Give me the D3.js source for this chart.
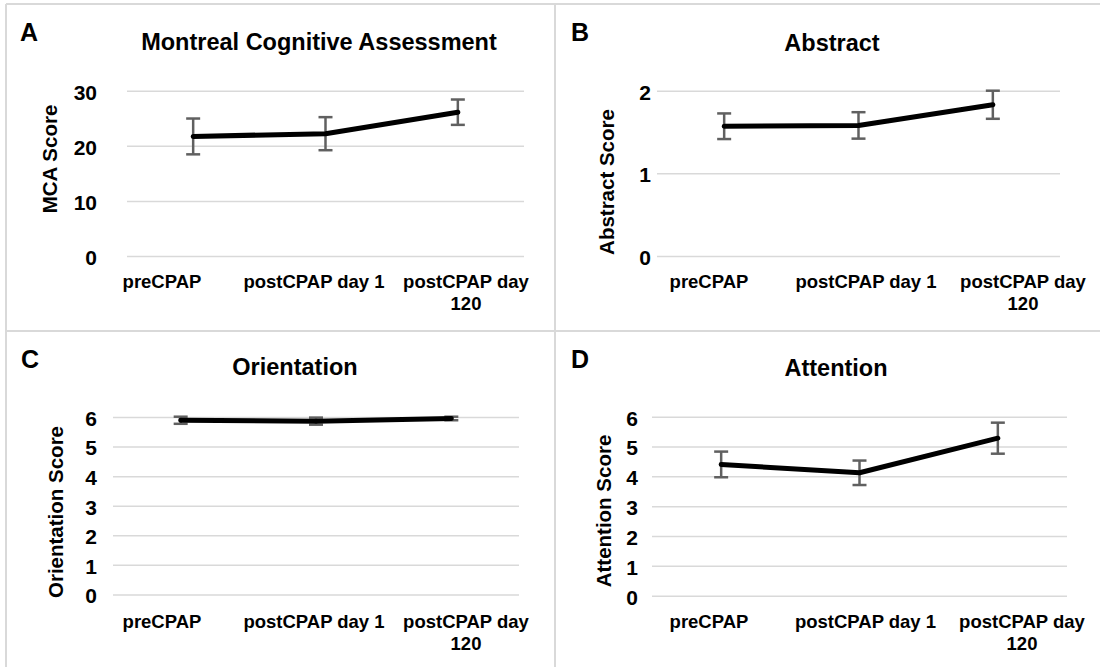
<!DOCTYPE html>
<html>
<head>
<meta charset="utf-8">
<script src="https://cdn.jsdelivr.net/npm/d3@7"></script>
<style>
  body { margin: 0; background: #fff; }
  text { font-family: "Liberation Sans", Arial, sans-serif; font-weight: bold; fill: #000; }
</style>
</head>
<body>
<svg width="1100" height="667"></svg>
<script>
// categories and tick labels
var categories = ["preCPAP", "postCPAP day 1", "postCPAP day 120"];
var categoryLines = [["preCPAP"], ["postCPAP day 1"], ["postCPAP day", "120"]];

// means and error
var mcaMean = [21.7, 22.2, 26.1];
var mcaErr = [3.25, 3.0, 2.3];
var abstractMean = [1.57, 1.58, 1.83];
var abstractErr = [0.155, 0.16, 0.17];
var orientationMean = [5.89, 5.86, 5.95];
var orientationErr = [0.12, 0.12, 0.06];
var attentionMean = [4.40, 4.12, 5.28];
var attentionErr = [0.43, 0.41, 0.52];

var mcaTicks = [0, 10, 20, 30];
var abstractTicks = [0, 1, 2];
var orientationTicks = [0, 1, 2, 3, 4, 5, 6];
var attentionTicks = [0, 1, 2, 3, 4, 5, 6];

var svg = d3.select("svg");

// panel frames
var frame = svg.append("g").attr("stroke", "#d9d9d9").attr("stroke-width", 2);
frame.append("line").attr("x1", 6).attr("x2", 1100).attr("y1", 4).attr("y2", 4);
frame.append("line").attr("x1", 6).attr("x2", 6).attr("y1", 4).attr("y2", 667);
frame.append("line").attr("x1", 555).attr("x2", 555).attr("y1", 4).attr("y2", 667);
frame.append("line").attr("x1", 6).attr("x2", 1100).attr("y1", 331).attr("y2", 331);

var panels = [
  { letter: "A", title: "Montreal Cognitive Assessment", ylabel: "MCA Score",
    mean: mcaMean, err: mcaErr, ticks: mcaTicks,
    x: [127, 524], y: [256, 90.7], pad: 30,
    letterPos: [20, 41], titlePos: [319, 50], ylabPos: [50, 159],
    labX: [162, 466], labY: 288 },
  { letter: "B", title: "Abstract", ylabel: "Abstract Score",
    mean: abstractMean, err: abstractErr, ticks: abstractTicks,
    x: [657, 1060], y: [256, 90.7], pad: 6,
    letterPos: [571, 41], titlePos: [832, 51], ylabPos: [607, 182],
    labX: [709, 1023], labY: 288 },
  { letter: "C", title: "Orientation", ylabel: "Orientation Score",
    mean: orientationMean, err: orientationErr, ticks: orientationTicks,
    x: [113, 519], y: [594.4, 417], pad: 16,
    letterPos: [21, 368], titlePos: [295, 375], ylabPos: [56, 512],
    labX: [162, 466], labY: 628 },
  { letter: "D", title: "Attention", ylabel: "Attention Score",
    mean: attentionMean, err: attentionErr, ticks: attentionTicks,
    x: [652, 1067], y: [595.7, 416.7], pad: 14,
    letterPos: [571, 368], titlePos: [836, 376], ylabPos: [604, 511],
    labX: [709, 1022], labY: 628 }
];

panels.forEach(drawPanel);

function drawPanel(p) {
  var g = svg.append("g");
  var ymax = p.ticks[p.ticks.length - 1];

  var x = d3.scaleBand().domain(categories).range(p.x);
  var y = d3.scaleLinear().domain([0, ymax]).range(p.y);
  var lab = d3.scalePoint().domain(categories).range(p.labX);

  // gridlines + tick labels
  var ax = g.append("g")
      .attr("transform", "translate(" + p.x[0] + ",0)")
      .call(d3.axisLeft(y)
        .tickValues(p.ticks)
        .tickSize(-(p.x[1] - p.x[0]))
        .tickPadding(p.pad)
        .tickFormat(d3.format("d")));
  ax.select(".domain").remove();
  ax.selectAll(".tick line").attr("stroke", "#d9d9d9").attr("stroke-width", 1.5);
  ax.selectAll(".tick text")
      .attr("font-size", 21)
      .attr("dy", "0.4em")
      .style("font-family", "'Liberation Sans', Arial, sans-serif")
      .style("font-weight", "bold");

  // category labels
  categories.forEach(function(c, i) {
    var t = g.append("text")
        .attr("x", lab(c))
        .attr("y", p.labY)
        .attr("text-anchor", "middle")
        .attr("font-size", 18.5);
    categoryLines[i].forEach(function(s, j) {
      t.append("tspan").attr("x", lab(c)).attr("dy", j == 0 ? 0 : 22).text(s);
    });
  });

  var pts = categories.map(function(c, i) {
    return { cx: x(c) + x.bandwidth() / 2, m: p.mean[i], e: p.err[i] };
  });

  // error bars
  var eb = g.append("g").attr("stroke", "#606060").attr("stroke-width", 2.5);
  pts.forEach(function(d) {
    eb.append("line").attr("x1", d.cx).attr("x2", d.cx)
      .attr("y1", y(d.m - d.e)).attr("y2", y(d.m + d.e));
    eb.append("line").attr("x1", d.cx - 7).attr("x2", d.cx + 7)
      .attr("y1", y(d.m - d.e)).attr("y2", y(d.m - d.e));
    eb.append("line").attr("x1", d.cx - 7).attr("x2", d.cx + 7)
      .attr("y1", y(d.m + d.e)).attr("y2", y(d.m + d.e));
  });

  // mean line
  var line = d3.line().x(function(d) { return d.cx; }).y(function(d) { return y(d.m); });
  g.append("path")
      .datum(pts)
      .attr("d", line)
      .attr("fill", "none")
      .attr("stroke", "#000")
      .attr("stroke-width", 5)
      .attr("stroke-linejoin", "round")
      .attr("stroke-linecap", "round");

  g.append("text")
      .attr("x", p.letterPos[0]).attr("y", p.letterPos[1])
      .attr("font-size", 25)
      .text(p.letter);

  g.append("text")
      .attr("x", p.titlePos[0]).attr("y", p.titlePos[1])
      .attr("text-anchor", "middle")
      .attr("font-size", 23.5)
      .text(p.title);

  g.append("text")
      .attr("transform", "translate(" + p.ylabPos[0] + "," + p.ylabPos[1] + ") rotate(-90)")
      .attr("text-anchor", "middle")
      .attr("dy", "0.35em")
      .attr("font-size", 20.5)
      .text(p.ylabel);
}
</script>
</body>
</html>
